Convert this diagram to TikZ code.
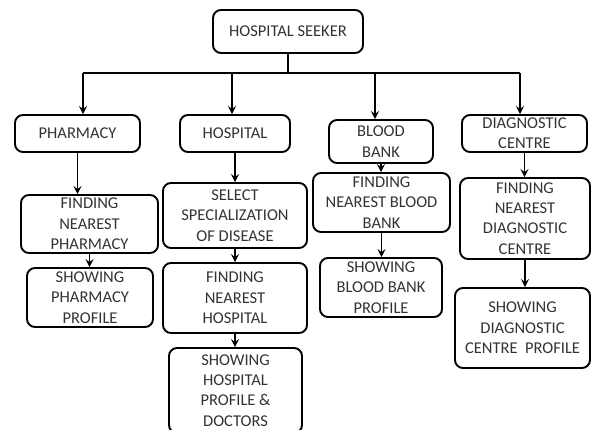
\documentclass[tikz,border=0pt]{standalone}
\usepackage{fontspec}
\setmainfont{Carlito}
\usetikzlibrary{arrows.meta}
\begin{document}
\begin{tikzpicture}[x=1pt,y=-1pt,
  box/.style={draw=black, line width=1.9pt, rounded corners=8pt, inner sep=0pt,
    align=center, text=black!80, font=\fontsize{16.5}{20.3}\selectfont},
  conn/.style={draw=black, line width=1.9pt},
  arr/.style={conn, -{Stealth[length=8pt,width=8pt,inset=3pt]}}]
\useasboundingbox (0,0) rectangle (591,430);
% top
\node[box, minimum width=150pt, minimum height=43pt] (seeker) at (288,31.5) {HOSPITAL SEEKER};
% first row
\node[box, minimum width=125pt, minimum height=37pt] (pharm) at (77.5,133.5) {PHARMACY};
\node[box, minimum width=110pt, minimum height=37pt] (hosp) at (235,133.5) {HOSPITAL};
\node[box, minimum width=104pt, minimum height=43pt] (blood) at (381,141.5) {BLOOD\\BANK};
\node[box, minimum width=125pt, minimum height=37pt] (diag) at (524.5,133.5) {DIAGNOSTIC\\CENTRE};
% pharmacy column
\node[box, minimum width=137pt, minimum height=58pt] (fpharm) at (89.5,224) {FINDING\\NEAREST\\PHARMACY};
\node[box, minimum width=126pt, minimum height=59pt] (spharm) at (90,297.5) {SHOWING\\PHARMACY\\PROFILE};
% hospital column
\node[box, minimum width=144pt, minimum height=65pt] (select) at (235,215.5) {SELECT\\SPECIALIZATION\\OF DISEASE};
\node[box, minimum width=144pt, minimum height=70pt] (fhosp) at (235,298) {FINDING\\NEAREST\\HOSPITAL};
\node[box, minimum width=133pt, minimum height=85pt] (shosp) at (235.5,390.5) {SHOWING\\HOSPITAL\\PROFILE \&\\DOCTORS};
% blood bank column
\node[box, minimum width=137pt, minimum height=59pt] (fblood) at (381.5,202.5) {FINDING\\NEAREST BLOOD\\BANK};
\node[box, minimum width=122pt, minimum height=59pt] (sblood) at (381,287.5) {SHOWING\\BLOOD BANK\\PROFILE};
% diagnostic column
\node[box, minimum width=130pt, minimum height=81pt] (fdiag) at (525,218.5) {FINDING\\NEAREST\\DIAGNOSTIC\\CENTRE};
\node[box, minimum width=135pt, minimum height=80pt] (sdiag) at (522.5,328) {SHOWING\\DIAGNOSTIC\\CENTRE\ \ PROFILE};
% bus
\coordinate (jc) at (288,73);
\coordinate (j1) at (83,73);
\coordinate (j2) at (232,73);
\coordinate (j3) at (375,73);
\coordinate (j4) at (520,73);
\draw[conn] (seeker.south) -- (jc);
\draw[conn] (j1) -- (j4);
\draw[arr] (j1) -- (j1 |- pharm.north);
\draw[arr] (j2) -- (j2 |- hosp.north);
\draw[arr] (j3) -- (j3 |- blood.north);
\draw[arr] (j4) -- (j4 |- diag.north);
% columns
\draw[arr] (pharm.south) -- (pharm.south |- fpharm.north);
\draw[arr] (fpharm.south) -- (fpharm.south |- spharm.north);
\draw[arr] (hosp.south) -- (hosp.south |- select.north);
\draw[arr] (select.south) -- (select.south |- fhosp.north);
\draw[arr] (fhosp.south) -- (fhosp.south |- shosp.north);
\draw[arr] (blood.south) -- (blood.south |- fblood.north);
\draw[arr] (fblood.south) -- (fblood.south |- sblood.north);
\draw[arr] (diag.south) -- (diag.south |- fdiag.north);
\draw[arr] (fdiag.south) -- (fdiag.south |- sdiag.north);
\end{tikzpicture}
\end{document}
